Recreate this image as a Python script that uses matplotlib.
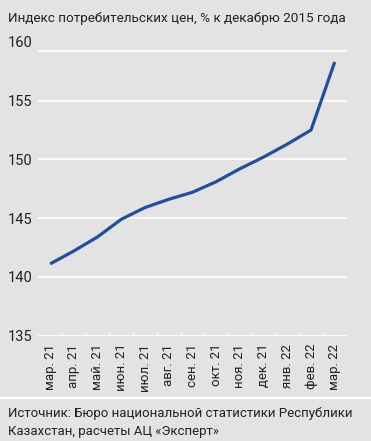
import matplotlib
matplotlib.use("Agg")
import matplotlib.pyplot as plt
from matplotlib import font_manager

months = ["мар. 21", "апр. 21", "май. 21", "июн. 21", "июл. 21", "авг. 21",
          "сен. 21", "окт. 21", "ноя. 21", "дек. 21", "янв. 22", "фев. 22", "мар. 22"]
cpi = [141.1, 142.2, 143.4, 144.9, 145.9, 146.6, 147.2, 148.1, 149.2, 150.2, 151.3, 152.5, 158.3]
yticks = [135, 140, 145, 150, 155, 160]
top_rule = 159.2  # the top white rule sits a little below the 160 label

names = {f.name for f in font_manager.fontManager.ttflist}
fam = [n for n in ["Liberation Sans Narrow", "DejaVu Sans Condensed", "Roboto", "DejaVu Sans"] if n in names]
plt.rcParams["font.family"] = fam

bg = "#e3e3e3"
ink = "#222222"
fig = plt.figure(figsize=(3.71, 4.41), dpi=100, facecolor=bg)
ax = fig.add_axes([0.1032, 0.2392, 0.831, 0.6656], facecolor=bg)

x = list(range(len(months)))
ax.plot(x, cpi, color="#1f4f9e", lw=2.3, solid_capstyle="butt", zorder=3)

ax.set_xlim(-0.5, len(months) - 0.5)
ax.set_ylim(135, 160)
ax.set_yticks(yticks)
ax.set_yticklabels([str(v) for v in yticks], fontsize=10.5, color=ink, ha="left")
ax.tick_params(axis="y", length=0, pad=22)
ax.set_xticks(x)
ax.set_xticklabels(months, rotation=90, fontsize=9.5, color=ink)
ax.tick_params(axis="x", length=0, pad=6)
ax.set_xticks([i + 0.5 for i in x[:-1]], minor=True)
ax.tick_params(axis="x", which="minor", direction="in", length=3, width=1, color="white")
for v in yticks[:-1] + [top_rule]:
    ax.axhline(v, color="white", lw=1.2, zorder=1)
for s in ax.spines.values():
    s.set_visible(False)

fig.text(0.022, 0.958, "Индекс потребительских цен, % к декабрю 2015 года",
         fontsize=9.7, color=ink, va="center")
fig.add_artist(plt.Line2D([0, 1], [1 - 398 / 441] * 2, color="white", lw=1.5))
fig.text(0.022, 1 - 413 / 441, "Источник: Бюро национальной статистики Республики",
         fontsize=9.5, color=ink, va="center")
fig.text(0.022, 1 - 432 / 441, "Казахстан, расчеты АЦ «Эксперт»",
         fontsize=9.5, color=ink, va="center")

fig.savefig("out.png", dpi=100, facecolor=bg)
